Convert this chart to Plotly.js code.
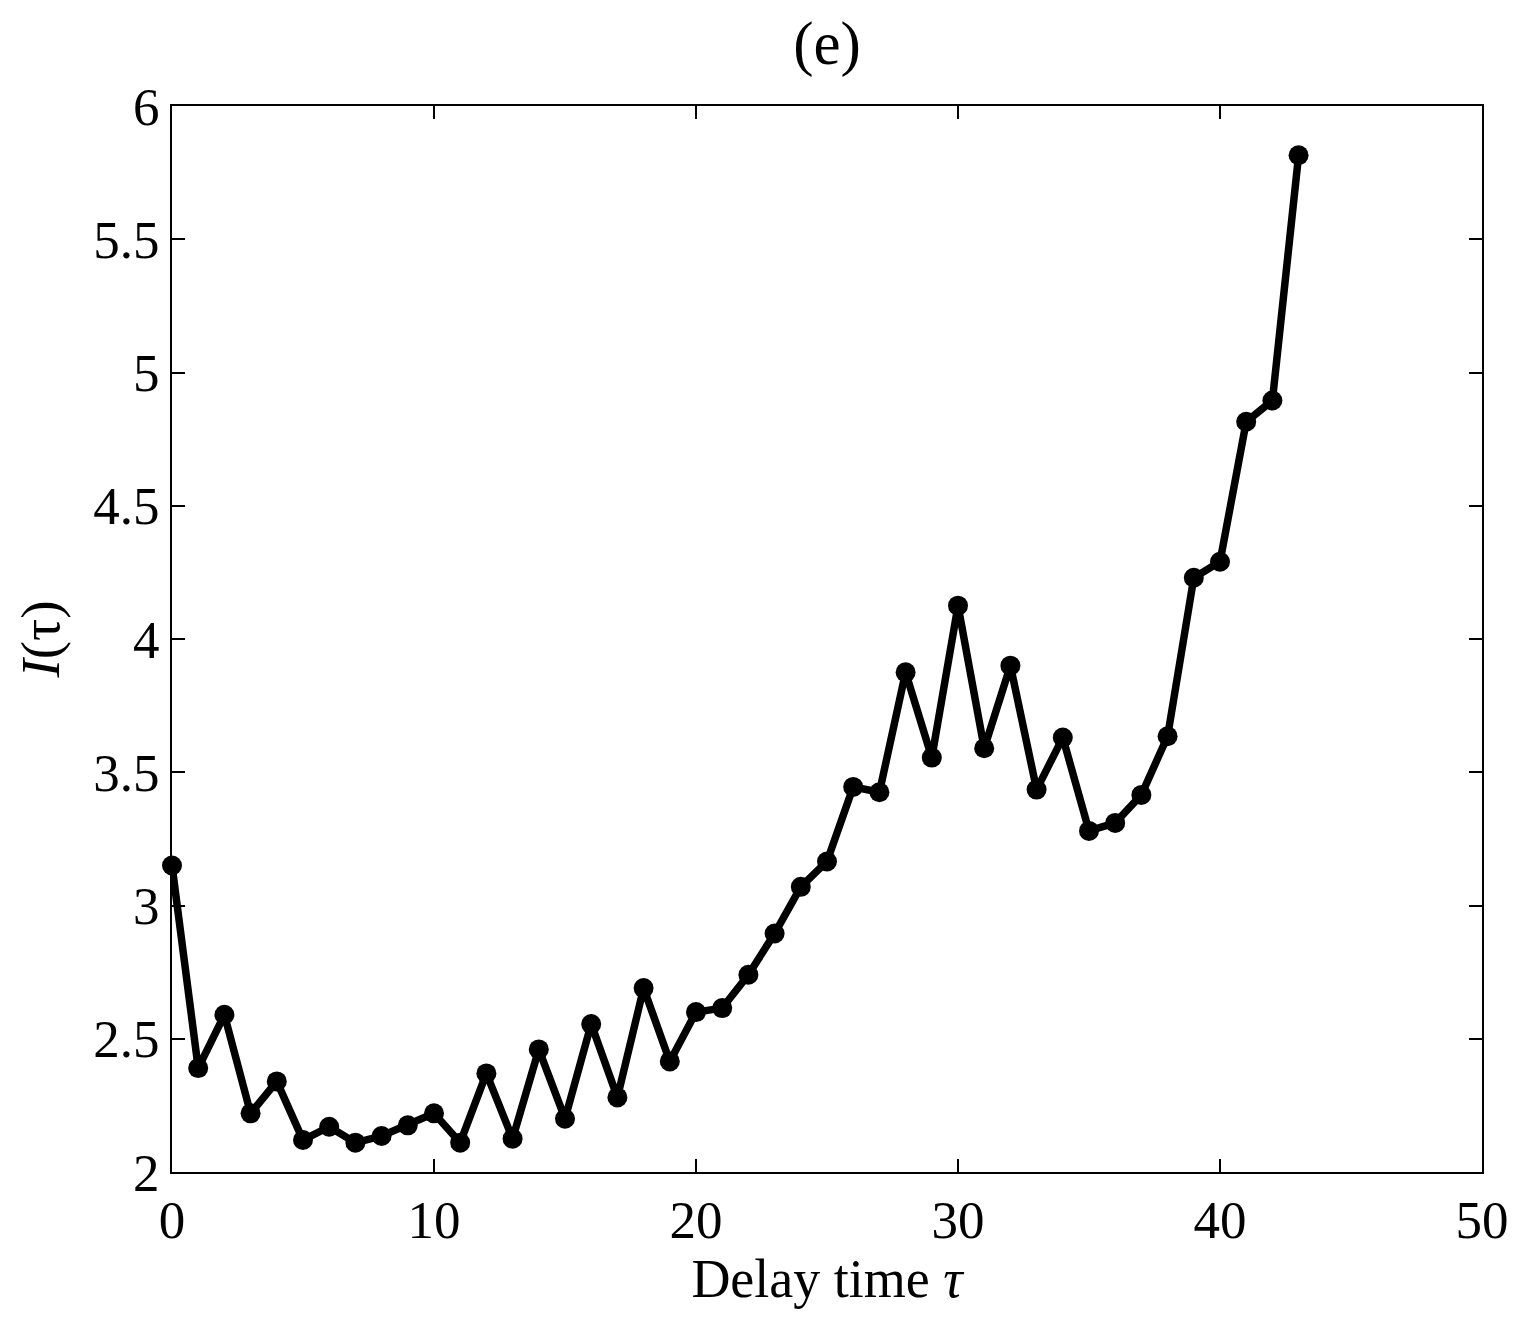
<!DOCTYPE html>
<html>
<head>
<meta charset="utf-8">
<script src="https://cdn.plot.ly/plotly-3.0.1.min.js"></script>
<style>
  html, body { margin: 0; padding: 0; background: #fff; }
  #chart { width: 1529px; height: 1327px; }
</style>
</head>
<body>
<div id="chart"></div>
<script>
const delay = [0, 1, 2, 3, 4, 5, 6, 7, 8, 9, 10, 11, 12, 13, 14, 15, 16, 17, 18, 19, 20, 21,
  22, 23, 24, 25, 26, 27, 28, 29, 30, 31, 32, 33, 34, 35, 36, 37, 38, 39, 40, 41, 42, 43];
const info = [3.15, 2.39, 2.59, 2.22, 2.34, 2.12, 2.17, 2.11, 2.135, 2.175, 2.22, 2.11,
  2.37, 2.125, 2.46, 2.20, 2.555, 2.28, 2.69, 2.415, 2.60, 2.615, 2.74, 2.895, 3.07, 3.165,
  3.445, 3.425, 3.875, 3.555, 4.125, 3.59, 3.90, 3.435, 3.63, 3.28, 3.31, 3.415, 3.635,
  4.23, 4.29, 4.815, 4.895, 5.815];

const xTicks = [0, 10, 20, 30, 40, 50];
const yTicks = [2, 2.5, 3, 3.5, 4, 4.5, 5, 5.5, 6];
const yTickText = ["2", "2.5", "3", "3.5", "4", "4.5", "5", "5.5", "6"];

const serif = "Liberation Serif, Times New Roman, serif";

const axisBase = {
  showline: true,
  linecolor: "#000",
  linewidth: 2,
  mirror: "ticks",
  ticks: "inside",
  ticklen: 13,
  tickwidth: 2,
  tickcolor: "#000",
  showgrid: false,
  zeroline: false,
  tickfont: { family: serif, size: 53, color: "#000" }
};

Plotly.newPlot("chart", [
  {
    x: delay,
    y: info,
    mode: "lines+markers",
    line: { color: "#000", width: 7.5 },
    marker: { color: "#000", size: 20 },
    cliponaxis: false
  }
], {
  width: 1529,
  height: 1327,
  showlegend: false,
  paper_bgcolor: "#fff",
  plot_bgcolor: "#fff",
  margin: { l: 172, r: 47, t: 106, b: 155 },
  title: {
    text: "(e)",
    font: { family: serif, size: 61, color: "#000" },
    x: 0.5409, xanchor: "center",
    y: 0.968, yanchor: "middle"
  },
  xaxis: Object.assign({}, axisBase, {
    range: [0, 50],
    tickvals: xTicks,
    ticktext: xTicks.map(String),
    title: { text: "Delay time <i>τ</i>", font: { family: serif, size: 54, color: "#000" }, standoff: 8 }
  }),
  yaxis: Object.assign({}, axisBase, {
    range: [2, 6],
    tickvals: yTicks,
    ticktext: yTickText,
    title: { text: "<i>I</i>(τ)", font: { family: serif, size: 55, color: "#000" }, standoff: 16 }
  })
}, { displayModeBar: false });
</script>
</body>
</html>
